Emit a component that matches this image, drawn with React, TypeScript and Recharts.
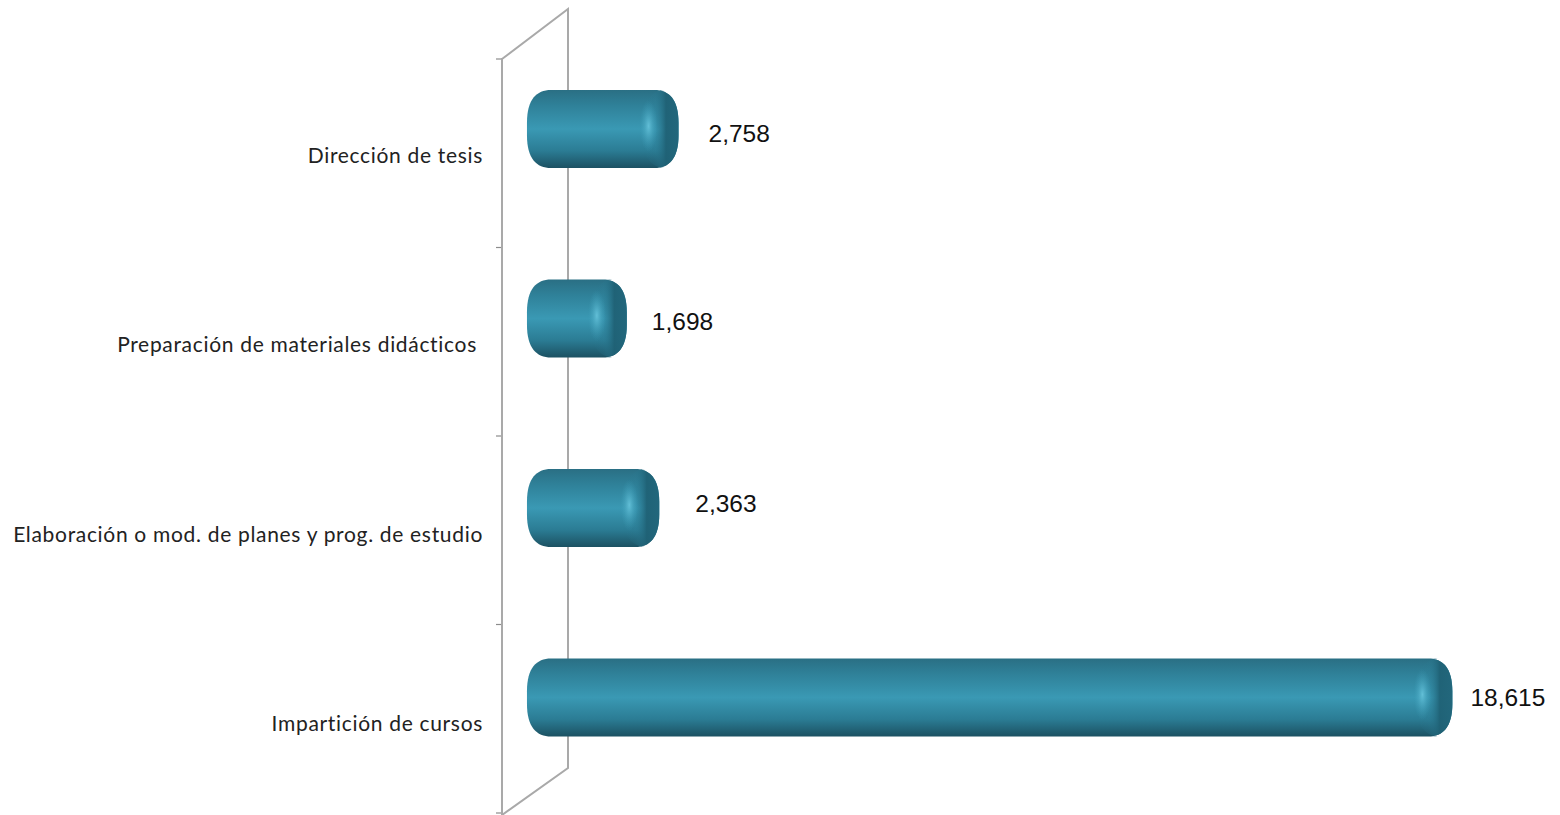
import React from 'react';
import { BarChart, Bar, XAxis, YAxis, LabelList, usePlotArea } from 'recharts';

// Top to bottom, same order as the picture
const categories = [
  'Dirección de tesis',
  'Preparación de materiales didácticos\u00A0',
  'Elaboración o mod. de planes y prog. de estudio',
  'Impartición de cursos',
];
const values = [2758, 1698, 2363, 18615];

const labelDx = [30, 25, 36, 18];
const labelDy = [5, 3, -4, 0];

const data = categories.map((name, i) => ({ name, value: values[i] }));

const WALL_COLOR = '#a9a9a9';
const DEPTH_X = 66;
const DEPTH_Y = 50;
const BAR_LIFT = 24;
const BAR_OVERHANG = 17;
const TICK_STEP = 188.5;

// Back wall and tick marks of the fake 3D frame
const Wall = () => {
  const plot = usePlotArea();
  if (!plot) return null;
  const { x, y } = plot;
  const top = y + 1;
  const bottom = top + TICK_STEP * 4;
  return (
    <g fill="none" stroke={WALL_COLOR}>
      <path
        d={`M${x},${top} L${x + DEPTH_X},${top - DEPTH_Y} L${x + DEPTH_X},${bottom - 45} L${x},${bottom + 2}`}
        strokeWidth={2}
      />
      {[0, 1, 2, 3, 4].map((i) => (
        <line key={i} x1={x - 6} x2={x} y1={top + TICK_STEP * i} y2={top + TICK_STEP * i} stroke="#8c8c8c" strokeWidth={1.2} />
      ))}
    </g>
  );
};

const CategoryTick = ({ x, y, payload }: any) => (
  <text
    x={x - 11}
    y={y + 10}
    textAnchor="end"
    fontFamily="Lato, 'Open Sans', sans-serif"
    fontSize={21}
    letterSpacing={0.68}
    fill="#222"
  >
    {payload.value}
  </text>
);

const tubePath = (l: number, t: number, w: number, h: number, rx: number) => {
  const r = l + w;
  const b = t + h;
  return [
    `M${l + rx},${t}`,
    `L${r - rx},${t}`,
    `C${r - rx * 0.4},${t} ${r},${t + h * 0.12} ${r},${t + h * 0.42}`,
    `L${r},${t + h * 0.58}`,
    `C${r},${b - h * 0.12} ${r - rx * 0.4},${b} ${r - rx},${b}`,
    `L${l + rx},${b}`,
    `C${l + rx * 0.4},${b} ${l},${b - h * 0.12} ${l},${t + h * 0.58}`,
    `L${l},${t + h * 0.42}`,
    `C${l},${t + h * 0.12} ${l + rx * 0.4},${t} ${l + rx},${t}`,
    'Z',
  ].join(' ');
};

// Rounded tube with a lit band and a darker right-hand cap
const TubeBar = ({ x, y, width, height }: any) => {
  const left = x - BAR_OVERHANG;
  const top = y - BAR_LIFT;
  const w = width + BAR_OVERHANG;
  const capW = 36;
  const capX = left + w - capW;
  return (
    <g>
      <path d={tubePath(left, top, w, height, 24)} fill="url(#tubeBody)" />
      <path d={tubePath(capX, top, capW, height, 24)} fill="url(#tubeCap)" />
      <ellipse cx={capX + 6} cy={top + height / 2 - 3} rx={9} ry={height / 3} fill="url(#tubeGlow)" />
    </g>
  );
};

const ValueLabel = ({ x, y, width, height, value, index }: any) => (
  <text
    x={x + width + labelDx[index]}
    y={y - BAR_LIFT + height / 2 + 8 + labelDy[index]}
    fontFamily="'Liberation Sans', Arial, sans-serif"
    fontSize={24.5}
    fill="#111"
  >
    {Number(value).toLocaleString('en-US')}
  </text>
);

export default function App() {
  return (
    <div style={{ position: 'absolute', left: 0, top: 0 }}>
      <BarChart
        width={1560}
        height={815}
        layout="vertical"
        data={data}
        margin={{ top: 58, right: 0, bottom: -1, left: 0 }}
        barSize={78}
      >
        <defs>
          <linearGradient id="tubeBody" x1="0" y1="0" x2="0" y2="1">
            <stop offset="0%" stopColor="#2a6f84" />
            <stop offset="20%" stopColor="#2f8199" />
            <stop offset="50%" stopColor="#3a99b4" />
            <stop offset="78%" stopColor="#2b7c94" />
            <stop offset="100%" stopColor="#1c5162" />
          </linearGradient>
          <linearGradient id="tubeCap" x1="0" y1="0" x2="1" y2="0">
            <stop offset="0%" stopColor="#2a7a92" stopOpacity={0} />
            <stop offset="35%" stopColor="#2a7a92" stopOpacity={0.2} />
            <stop offset="65%" stopColor="#1f6175" stopOpacity={0.95} />
            <stop offset="100%" stopColor="#22677c" />
          </linearGradient>
          <radialGradient id="tubeGlow">
            <stop offset="0%" stopColor="#62bfd7" />
            <stop offset="100%" stopColor="#3a9ab5" stopOpacity={0} />
          </radialGradient>
        </defs>
        <Wall />
        <XAxis type="number" hide domain={[-860, 20820]} />
        <YAxis
          type="category"
          dataKey="name"
          width={502}
          interval={0}
          tick={<CategoryTick />}
          tickLine={false}
          axisLine={{ stroke: WALL_COLOR, strokeWidth: 2 }}
        />
        <Bar dataKey="value" shape={<TubeBar />} isAnimationActive={false}>
          <LabelList dataKey="value" content={<ValueLabel />} />
        </Bar>
      </BarChart>
    </div>
  );
}
